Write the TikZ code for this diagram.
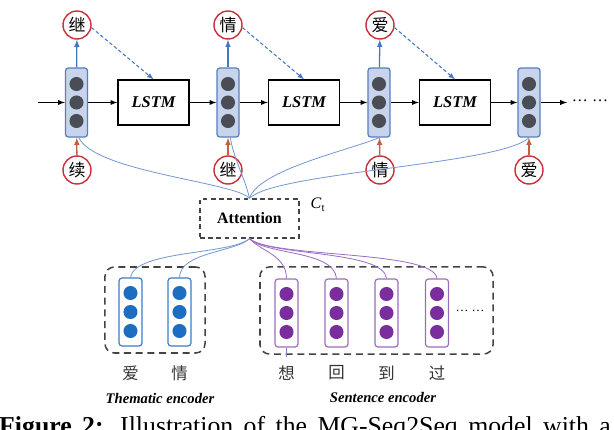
\documentclass[tikz,border=0pt]{standalone}
\usepackage{fontspec}
\setmainfont{Liberation Serif}
\newfontfamily\cjk{Noto Sans CJK SC}
\usetikzlibrary{arrows}

\definecolor{hidfill}{HTML}{C7D4EC}
\definecolor{hidline}{HTML}{5A7FBF}
\definecolor{dotgray}{HTML}{4A4C56}
\definecolor{wordred}{HTML}{C8303A}
\definecolor{outblue}{HTML}{4378C2}
\definecolor{inorange}{HTML}{C2613F}
\definecolor{attblue}{HTML}{7499D2}
\definecolor{attpurple}{HTML}{9C6CC4}
\definecolor{themline}{HTML}{3D7CC9}
\definecolor{themdot}{HTML}{1B6EC2}
\definecolor{sentline}{HTML}{9B6DBB}
\definecolor{sentdot}{HTML}{7A2D9C}
\definecolor{dashgray}{HTML}{444444}

\begin{document}
\begin{tikzpicture}[x=0.03cm,y=-0.03cm,font=\fontsize{13.7}{16}\selectfont,
  hid/.style={draw=hidline,fill=hidfill,line width=1.1pt,rounded corners=2.5pt,
    minimum width=18.8pt,minimum height=59pt,inner sep=0pt,
    path picture={
      \fill[dotgray] ([yshift=15.8pt]path picture bounding box.center) circle (6pt);
      \fill[dotgray] (path picture bounding box.center) circle (6pt);
      \fill[dotgray] ([yshift=-15.8pt]path picture bounding box.center) circle (6pt);}},
  encvec/.style={draw=#1line,fill=white,line width=1pt,rounded corners=2.5pt,
    minimum width=19.6pt,minimum height=58pt,inner sep=0pt,
    path picture={
      \fill[#1dot] ([yshift=16.2pt]path picture bounding box.center) circle (6pt);
      \fill[#1dot] (path picture bounding box.center) circle (6pt);
      \fill[#1dot] ([yshift=-16.2pt]path picture bounding box.center) circle (6pt);}},
  lstm/.style={draw,line width=1.2pt,minimum width=60.6pt,minimum height=38.4pt,
    font=\fontsize{14}{16}\selectfont\bfseries\itshape},
  word/.style={circle,draw=wordred,line width=1.2pt,fill=white,minimum size=23.9pt,
    inner sep=0pt,font=\cjk\fontsize{14.5}{16}\selectfont},
  group/.style={draw=dashgray,line width=1.3pt,dash pattern=on 6pt off 4pt,rounded corners=8pt},
  char/.style={font=\cjk\fontsize{14}{16}\selectfont,text=black!80}]
\useasboundingbox (0,0) rectangle (614,430);

%decoder chain
\coordinate (start) at (38,102.5);
\node[hid] (h1) at (76.5,102.5) {};
\node[lstm] (l1) at (153.5,102.5) {LSTM};
\node[hid] (h2) at (228,102.5) {};
\node[lstm] (l2) at (304,102.5) {LSTM};
\node[hid] (h3) at (379,102.5) {};
\node[lstm] (l3) at (455,102.5) {LSTM};
\node[hid] (h4) at (529,102.5) {};
\coordinate (stop) at (567,102.5);
\node (more) at (590,101) {\ldots\ \ldots};

\begin{scope}[-latex,line width=1pt]
\draw (start) -- (h1);
\draw (h1) -- (l1);
\draw (l1) -- (h2);
\draw (h2) -- (l2);
\draw (l2) -- (h3);
\draw (h3) -- (l3);
\draw (l3) -- (h4);
\draw (h4) -- (stop);
\end{scope}

%outputs
\node[word] (o1) at (77,25) {继};
\node[word] (o2) at (228,25) {情};
\node[word] (o3) at (380,25) {爱};
\begin{scope}[-latex,outblue,line width=1.1pt]
\draw (h1) -- (o1);
\draw (h2) -- (o2);
\draw (h3) -- (o3);
\draw[densely dashed,line width=0.9pt] (o1.-10) -- (l1.north);
\draw[densely dashed,line width=0.9pt] (o2.-10) -- (l2.north);
\draw[densely dashed,line width=0.9pt] (o3.-10) -- (l3.north);
\end{scope}

%inputs
\node[word] (i1) at (77,170) {续};
\node[word] (i2) at (228,170) {继};
\node[word] (i3) at (380,170) {情};
\node[word] (i4) at (529,170) {爱};
\begin{scope}[-latex,inorange,line width=1.1pt]
\draw (i1) -- (h1);
\draw (i2) -- (h2);
\draw (i3) -- (h3);
\draw (i4) -- (h4);
\end{scope}

%attention
\node[draw=dashgray,line width=1.1pt,dash pattern=on 4pt off 3pt,minimum width=84.5pt,
  minimum height=33.3pt,font=\fontsize{13.6}{16}\selectfont\bfseries] (att) at (249.5,218.5) {Attention};
\node (ct) at (318,205) {\textit{C}\textsubscript{t}};

\begin{scope}[attblue,line width=0.7pt]
\draw (att.north) .. controls (235,182) and (95,172) .. ([xshift=2pt]h1.south);
\draw (att.north) .. controls (245,178) and (234,160) .. ([xshift=2pt]h2.south);
\draw (att.north) .. controls (258,170) and (350,150) .. (h3.south);
\draw (att.north) .. controls (275,172) and (500,165) .. (h4.south);
\end{scope}

%encoders
\node[group,minimum width=85.4pt,minimum height=73.4pt] (tg) at (155,310) {};
\node[encvec=them] (t1) at (130.5,312) {};
\node[encvec=them] (t2) at (179.5,312) {};
\node[group,minimum width=198.9pt,minimum height=74.3pt] (sg) at (376.5,310.5) {};
\node[encvec=sent] (s1) at (286.5,313) {};
\node[encvec=sent] (s2) at (336.5,313) {};
\node[encvec=sent] (s3) at (386.5,313) {};
\node[encvec=sent] (s4) at (437,313) {};
\node[font=\fontsize{11}{13}\selectfont] (sdots) at (470,311) {\ldots\ \ldots};
\coordinate (s1tail) at (286.5,357);
\draw[sentline,line width=0.8pt] (s1.south) -- (s1tail);

\begin{scope}[attblue,line width=0.7pt]
\draw (att.south) .. controls (230,255) and (135,250) .. (t1.north);
\draw (att.south) .. controls (236,252) and (180,252) .. (t2.north);
\end{scope}
\begin{scope}[attpurple,line width=0.7pt]
\draw (att.south) .. controls (262,252) and (286,255) .. (s1.north);
\draw (att.south) .. controls (265,255) and (334,250) .. (s2.north);
\draw (att.south) .. controls (268,256) and (384,250) .. (s3.north);
\draw (att.south) .. controls (271,258) and (434,250) .. (s4.north);
\end{scope}

%labels
\node[char] (w1) at (130.5,373) {爱};
\node[char] (w2) at (179.5,373) {情};
\node[char] (w3) at (286.5,373) {想};
\node[char] (w4) at (336.5,373) {回};
\node[char] (w5) at (386.5,373) {到};
\node[char] (w6) at (437,373) {过};
\node[font=\fontsize{12.5}{14}\selectfont\bfseries\itshape] (thname) at (160,398) {Thematic encoder};
\node[font=\fontsize{12.5}{14}\selectfont\bfseries\itshape] (sename) at (383,397) {Sentence encoder};

%caption, cut by the page edge
\node[anchor=base west,inner sep=0pt,font=\fontsize{22}{24}\selectfont] (cap) at (-1,434)
  {\makebox[522pt][s]{\textbf{Figure 2:} Illustration of the MG-Seq2Seq model with a}};
\end{tikzpicture}
\end{document}
